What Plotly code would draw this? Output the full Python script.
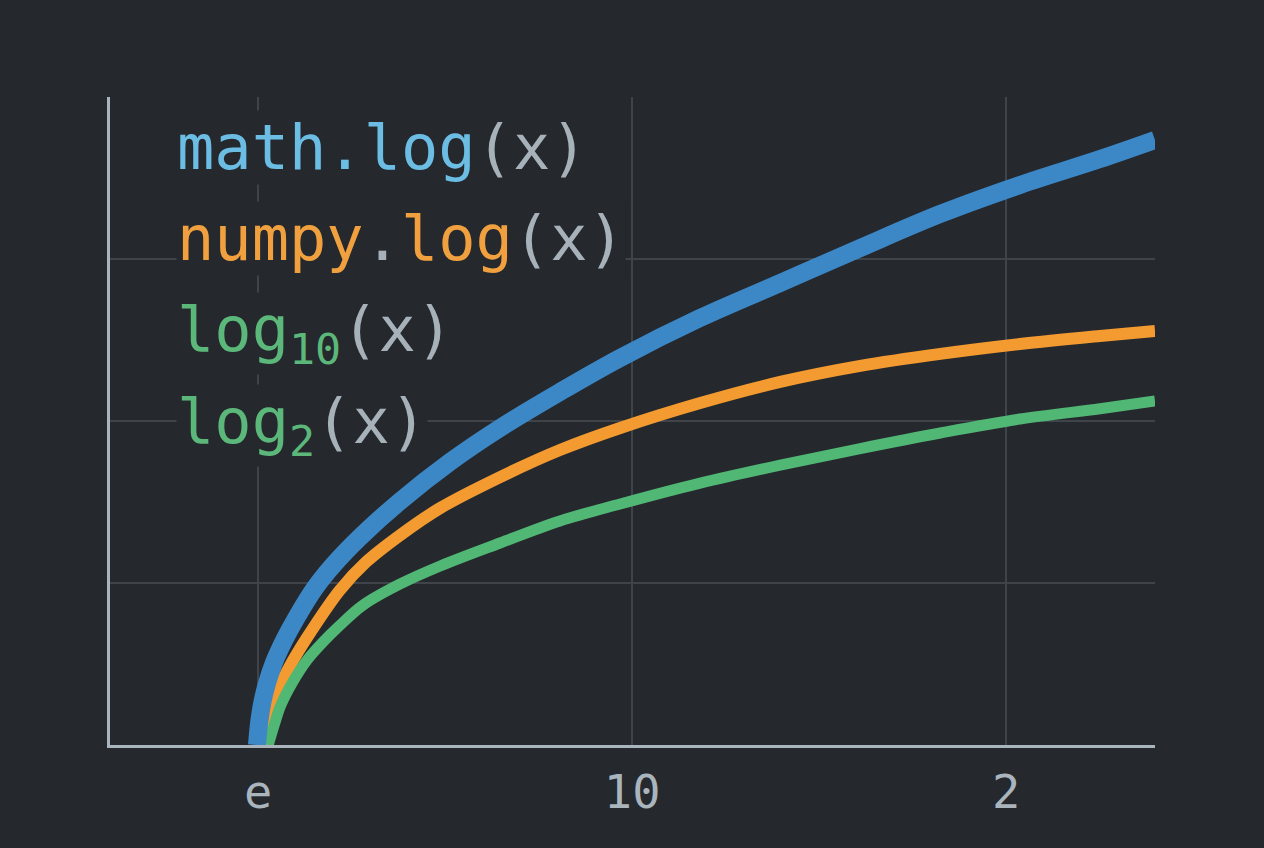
import plotly.graph_objects as go

# ── Data (x in tick units, y in grid units) ─────────────────────────────────────
tick_vals = [1, 2, 3]
tick_text = ["e", "10", "2"]

math_x = [0.997, 1.003, 1.011, 1.024, 1.043, 1.070, 1.102, 1.150, 1.201, 1.273, 1.380, 1.513,
          1.647, 1.807, 1.968, 2.182, 2.396, 2.610, 2.824, 3.037, 3.251, 3.398]
math_y = [0.000, 0.142, 0.259, 0.383, 0.512, 0.648, 0.784, 0.963, 1.111, 1.284, 1.506, 1.747,
          1.957, 2.179, 2.389, 2.636, 2.852, 3.068, 3.278, 3.457, 3.617, 3.735]

numpy_x = [1.013, 1.021, 1.035, 1.059, 1.094, 1.144, 1.219, 1.289, 1.380, 1.487, 1.647, 1.807,
           1.968, 2.182, 2.396, 2.610, 2.824, 3.037, 3.251, 3.398]
numpy_y = [0.000, 0.123, 0.247, 0.370, 0.525, 0.710, 0.957, 1.130, 1.296, 1.463, 1.654, 1.821,
           1.957, 2.111, 2.241, 2.340, 2.414, 2.475, 2.525, 2.556]

log2_x = [1.027, 1.043, 1.061, 1.091, 1.131, 1.171, 1.214, 1.281, 1.380, 1.487, 1.647, 1.807,
          1.968, 2.182, 2.396, 2.610, 2.824, 3.037, 3.251, 3.398]
log2_y = [0.000, 0.123, 0.247, 0.383, 0.525, 0.630, 0.728, 0.864, 0.994, 1.105, 1.247, 1.383,
          1.488, 1.617, 1.728, 1.830, 1.926, 2.012, 2.076, 2.123]

# ── Theme ──────────────────────────────────────────────────────────────────────
BG = "#25282d"
GRID = "#3f444b"
AXIS = "#a9b4bd"
PAREN = "#a7b1b9"
BLUE, ORANGE, GREEN = "#3c88c7", "#f39a30", "#50b775"
BLUE_TXT, ORANGE_TXT, GREEN_TXT = "#6bbde4", "#f0a03e", "#5cb87a"
MONO = "DejaVu Sans Mono, monospace"

fig = go.Figure()

# draw order: orange, green, then the thick blue on top
fig.add_trace(go.Scatter(x=numpy_x, y=numpy_y, mode="lines", line=dict(color=ORANGE, width=12, shape="spline", smoothing=1)))
fig.add_trace(go.Scatter(x=log2_x, y=log2_y, mode="lines", line=dict(color=GREEN, width=11, shape="spline", smoothing=1)))
fig.add_trace(go.Scatter(x=math_x, y=math_y, mode="lines", line=dict(color=BLUE, width=18, shape="spline", smoothing=1)))


def span(text, color):
    return f"<span style='color:{color}'>{text}</span>"


# label rows sit on a background-coloured box so the grid breaks around them
legend_rows = [
    (0.9213, span("math.log", BLUE_TXT) + span("(x)", PAREN)),
    (0.7824, span("numpy", ORANGE_TXT) + span(".", PAREN) + span("log", ORANGE_TXT) + span("(x)", PAREN)),
    (0.6358, span("log<sub>10</sub>", GREEN_TXT) + span("(x)", PAREN)),
    (0.4938, span("log<sub>2</sub>", GREEN_TXT) + span("(x)", PAREN)),
]
for ypos, txt in legend_rows:
    fig.add_annotation(
        xref="paper", yref="paper", x=0.0632, y=ypos,
        xanchor="left", yanchor="middle", showarrow=False,
        text=txt, font=dict(family=MONO, size=62, color=PAREN),
        bgcolor=BG, borderpad=0,
    )

fig.update_layout(
    width=1264, height=848,
    paper_bgcolor=BG, plot_bgcolor=BG,
    showlegend=False,
    margin=dict(l=110, r=109, t=97, b=103),
    xaxis=dict(
        range=[0.604, 3.398], tickvals=tick_vals, ticktext=tick_text,
        showgrid=True, gridcolor=GRID, gridwidth=1.5, zeroline=False,
        showline=True, linecolor=AXIS, linewidth=3,
        ticks="", ticklabelstandoff=4,
        tickfont=dict(family=MONO, size=47, color=AXIS),
    ),
    yaxis=dict(
        range=[0, 4], tickvals=[1, 2, 3], showticklabels=False,
        showgrid=True, gridcolor=GRID, gridwidth=1.5, zeroline=False,
        showline=True, linecolor=AXIS, linewidth=3, ticks="",
    ),
)

fig.write_html(
    "out.html",
    config={"displayModeBar": False},
    post_script="document.body.style.margin='0';document.body.style.background='#25282d';",
)
